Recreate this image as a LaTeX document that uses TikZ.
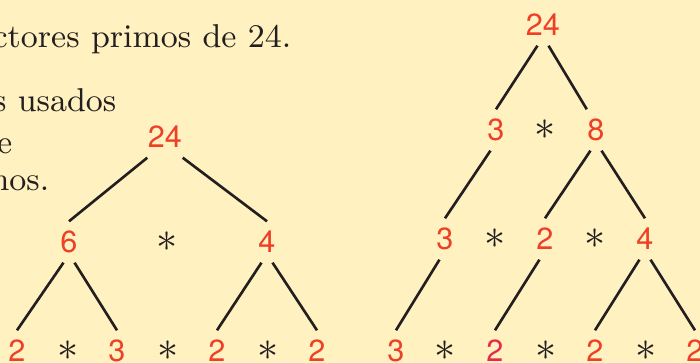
\documentclass[tikz,border=0pt]{standalone}
\usepackage{fontspec}
\newfontfamily\numfont{TeX Gyre Heros}
\definecolor{bgyellow}{HTML}{FFF1C0}
\definecolor{numred}{HTML}{EE4027}
\definecolor{numpink}{HTML}{E8294B}
\definecolor{inkblack}{HTML}{231F20}

\begin{document}
\begin{tikzpicture}[
    num/.style={inner sep=0pt, minimum height=0.4cm, text=numred, font=\numfont\fontsize{8.7}{10}\selectfont},
    prodsym/.style={inner sep=0pt, text=inkblack, font=\fontsize{12}{14}\selectfont},
    prose/.style={inner sep=0pt, anchor=base east, text=inkblack, font=\fontsize{9.4}{11}\selectfont},
    branch/.style={inkblack, line width=0.75pt}
  ]
    % Page
    \useasboundingbox (0,0) rectangle (7,3.63);
    \clip (0,0) rectangle (7,3.63);
    \fill[bgyellow] (0,0) rectangle (7,3.63);

    % Text cut at the left edge
    \node[prose] (txt1) at (2.92,3.16) {ctores primos de 24.};
    \node[prose] (txt2) at (1.17,2.52) {s usados};
    \node[prose] (txt3) at (0.13,2.10) {e};
    \node[prose] (txt4) at (0.50,1.72) {nos.};

    % Left tree: numbers
    \node[num] (l24) at (1.65,2.26) {24};
    \node[num] (l6) at (0.69,1.21) {6};
    \node[prodsym] (lm) at (1.67,1.21) {$\ast$};
    \node[num] (l4) at (2.67,1.21) {4};
    \node[num] (la) at (0.17,0.12) {2};
    \node[prodsym] (lsa) at (0.68,0.12) {$\ast$};
    \node[num] (lb) at (1.17,0.12) {3};
    \node[prodsym] (lsb) at (1.68,0.12) {$\ast$};
    \node[num] (lc) at (2.17,0.12) {2};
    \node[prodsym] (lsc) at (2.68,0.12) {$\ast$};
    \node[num] (ld) at (3.17,0.12) {2};

    % Left tree: branches
    \draw[branch] (l24.south west) -- (l6.north);
    \draw[branch] (l24.south east) -- (l4.north);
    \draw[branch] (l6.-105) -- (la.north);
    \draw[branch] (l6.-75) -- (lb.north);
    \draw[branch] (l4.-105) -- (lc.north);
    \draw[branch] (l4.-75) -- (ld.north);

    % Right tree: numbers
    \node[num] (r24) at (5.43,3.38) {24};
    \node[num] (r3) at (4.96,2.33) {3};
    \node[prodsym] (rm) at (5.45,2.33) {$\ast$};
    \node[num] (r8) at (5.96,2.33) {8};
    \node[num] (s3) at (4.45,1.24) {3};
    \node[prodsym] (sma) at (4.95,1.24) {$\ast$};
    \node[num] (s2) at (5.45,1.24) {2};
    \node[prodsym] (smb) at (5.95,1.24) {$\ast$};
    \node[num] (s4) at (6.45,1.24) {4};
    \node[num] (ta) at (3.96,0.12) {3};
    \node[prodsym] (tsa) at (4.45,0.12) {$\ast$};
    \node[num, text=numpink] (tb) at (4.95,0.12) {2};
    \node[prodsym] (tsb) at (5.46,0.12) {$\ast$};
    \node[num] (tc) at (5.95,0.12) {2};
    \node[prodsym] (tsc) at (6.46,0.12) {$\ast$};
    \node[num] (td) at (6.95,0.12) {2};

    % Right tree: branches
    \draw[branch] (r24.-105) -- (r3.north);
    \draw[branch] (r24.-75) -- (r8.north west);
    \draw[branch] (r3.-105) -- (s3.north);
    \draw[branch] (r8.-105) -- (s2.north);
    \draw[branch] (r8.-75) -- (s4.north);
    \draw[branch] (s3.-105) -- (ta.north);
    \draw[branch] (s2.-105) -- (tb.north);
    \draw[branch] (s4.-105) -- (tc.north);
    \draw[branch] (s4.-75) -- (td.north);
\end{tikzpicture}
\end{document}
